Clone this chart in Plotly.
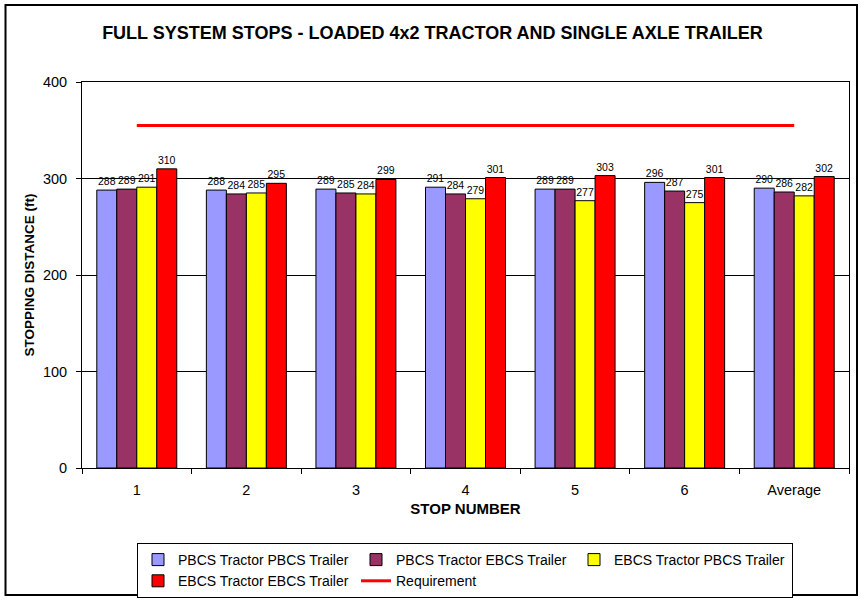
import plotly.graph_objects as go

# ---- Data ----
stops = ["1", "2", "3", "4", "5", "6", "Average"]
pbcs_pbcs = [288, 288, 289, 291, 289, 296, 290]
pbcs_ebcs = [289, 284, 285, 284, 289, 287, 286]
ebcs_pbcs = [291, 285, 284, 279, 277, 275, 282]
ebcs_ebcs = [310, 295, 299, 301, 303, 301, 302]
requirement = [355, 355, 355, 355, 355, 355, 355]

series = [
    ("PBCS Tractor PBCS Trailer", pbcs_pbcs, "#9999FF"),
    ("PBCS Tractor EBCS Trailer", pbcs_ebcs, "#993366"),
    ("EBCS Tractor PBCS Trailer", ebcs_pbcs, "#FFFF00"),
    ("EBCS Tractor EBCS Trailer", ebcs_ebcs, "#FF0000"),
]

font_family = "Liberation Sans, Arial, sans-serif"

fig = go.Figure()

for name, vals, color in series:
    fig.add_trace(go.Bar(
        x=stops,
        y=vals,
        name=name,
        marker=dict(color=color, line=dict(color="black", width=1)),
        text=vals,
        textposition="outside",
        textfont=dict(size=10.5, color="black", family=font_family),
        constraintext="none",
        cliponaxis=False,
    ))

fig.add_trace(go.Scatter(
    x=stops,
    y=requirement,
    name="Requirement",
    mode="lines",
    line=dict(color="#FF0000", width=3),
))

# ---- Axes ----
fig.update_xaxes(
    type="category",
    tickson="boundaries",
    ticks="outside",
    ticklen=5,
    tickcolor="black",
    ticklabelstandoff=9,
    showline=True,
    linecolor="black",
    linewidth=1,
    mirror=True,
    showgrid=False,
    tickfont=dict(size=14.5, color="black", family=font_family),
    title=dict(text="<b>STOP NUMBER</b>", font=dict(size=15, color="black", family=font_family), standoff=6),
)

fig.update_yaxes(
    range=[0, 400],
    dtick=100,
    ticks="outside",
    ticklen=5,
    tickcolor="black",
    ticklabelstandoff=6,
    showline=True,
    linecolor="black",
    linewidth=1,
    mirror=True,
    showgrid=True,
    gridcolor="black",
    gridwidth=1,
    zeroline=False,
    tickfont=dict(size=14.5, color="black", family=font_family),
    title=dict(text="<b>STOPPING DISTANCE (ft)</b>", font=dict(size=13.5, color="black", family=font_family), standoff=5),
)

# ---- Outer chart frame ----
fig.add_shape(
    type="rect", xref="paper", yref="paper",
    x0=(5.5 - 82) / 767, x1=(857 - 82) / 767,
    y0=(468 - 595) / 386, y1=(468 - 5) / 386,
    line=dict(color="black", width=2), fillcolor="rgba(0,0,0,0)",
    layer="below",
)

# ---- Layout ----
fig.update_layout(
    width=864,
    height=600,
    margin=dict(l=82, r=15, t=82, b=132, autoexpand=False),
    title=dict(
        text="<b>FULL SYSTEM STOPS - LOADED 4x2 TRACTOR AND SINGLE AXLE TRAILER</b>",
        x=432.5 / 864, xanchor="center",
        y=1 - 32.5 / 600, yanchor="middle",
        font=dict(size=18, color="black", family=font_family),
    ),
    barmode="group",
    bargap=0.27,
    bargroupgap=0,
    plot_bgcolor="white",
    paper_bgcolor="white",
    font=dict(family=font_family, color="black"),
    legend=dict(
        orientation="h",
        x=(137 - 82) / 767, xanchor="left",
        y=(468 - 543) / 386, yanchor="top",
        bordercolor="black",
        borderwidth=1,
        font=dict(size=14, color="black", family=font_family),
        entrywidth=173,
        traceorder="normal",
        itemwidth=30,
    ),
)

# drop the page's default body margin so the figure sits at the window origin
fig.write_html(
    "out.html",
    config={"displayModeBar": False},
    post_script="document.body.style.margin='0';",
)
